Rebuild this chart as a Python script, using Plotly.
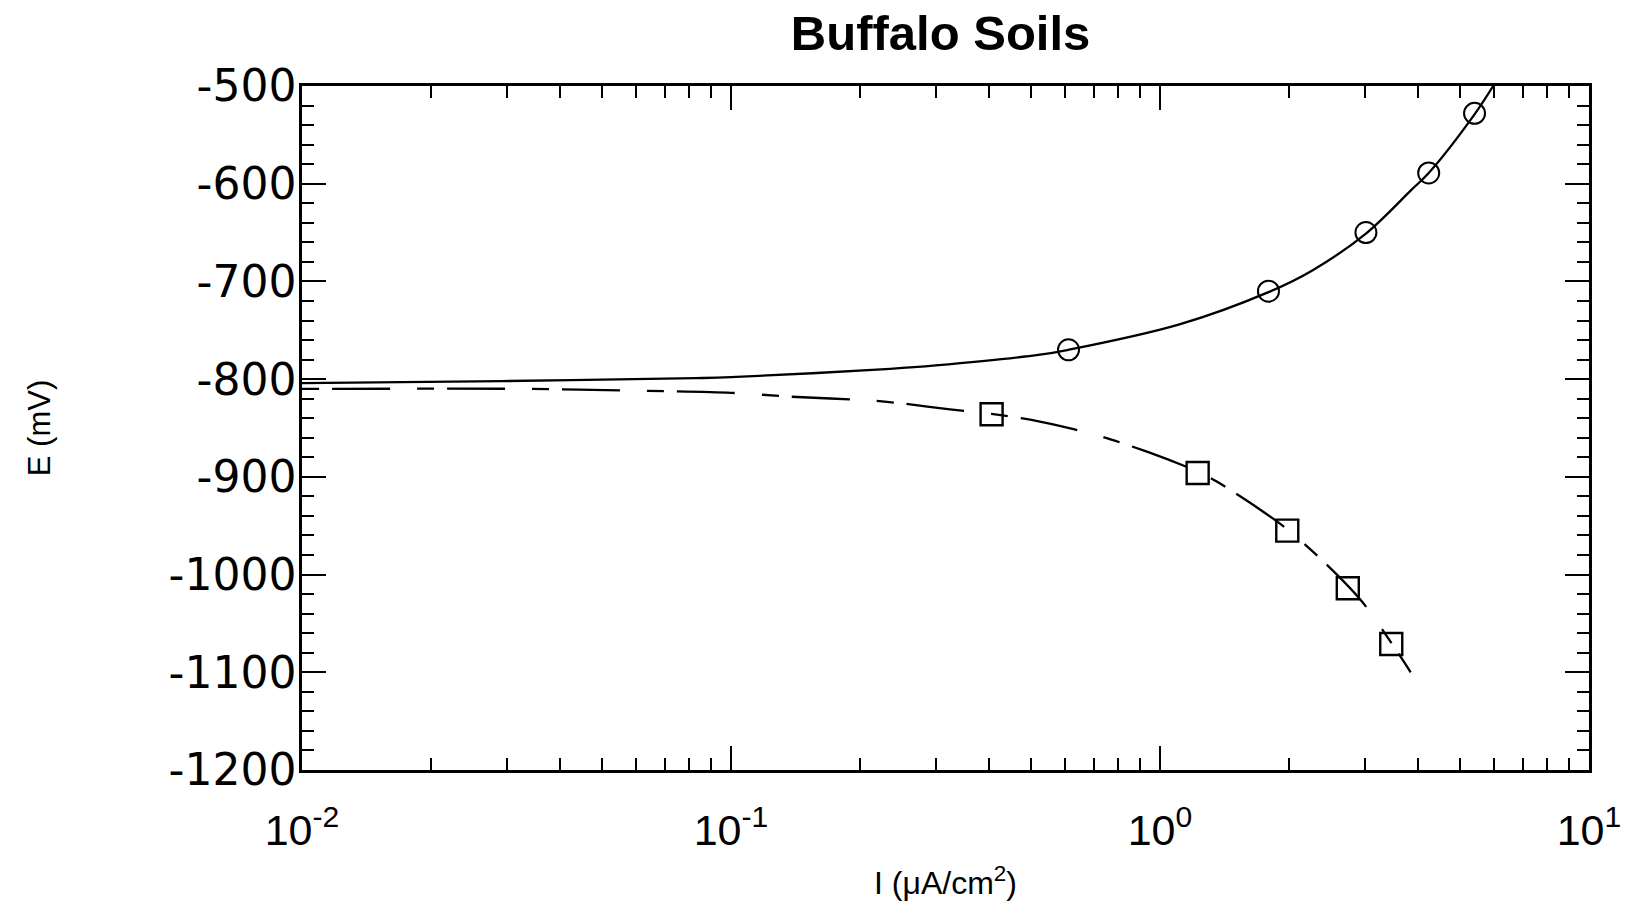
import plotly.graph_objects as go

# Measured data points
anodic_I = [0.612, 1.79, 3.02, 4.23, 5.41]
anodic_E = [-770, -710, -650, -589, -528]
cathodic_I = [0.405, 1.224, 1.98, 2.74, 3.46]
cathodic_E = [-836, -896, -955, -1014, -1071]

# Fitted curves
fit_anodic_I = [0.01, 0.0292, 0.0828, 0.1, 0.235, 0.300, 0.525, 0.612, 1.11, 1.79, 2.26, 3.02, 3.86, 4.23, 5.41, 5.98]
fit_anodic_E = [-804, -802, -799, -798, -789.5, -786, -775, -770, -744, -711, -689, -651, -606, -589, -529, -500]
fit_cath_I = [0.01, 0.0343, 0.0634, 0.1, 0.138, 0.215, 0.252, 0.324, 0.405, 0.505, 0.632, 0.734,
              0.929, 1.227, 1.359, 1.70, 1.98, 2.45, 2.95, 3.47, 3.84]
fit_cath_E = [-810, -810, -812, -814, -818, -822, -825, -831, -835.5, -842, -851.5, -859,
              -874, -894.7, -905, -932.6, -953.7, -990, -1027, -1070.5, -1100]

x_tickvals = [0.01, 0.1, 1, 10]
x_ticktext = ["10<sup>-2</sup>", "10<sup>-1</sup>", "10<sup>0</sup>", "10<sup>1</sup>"]
x_minor = [m * 10 ** e for e in (-2, -1, 0) for m in range(2, 10)]
y_tickvals = [-1200, -1100, -1000, -900, -800, -700, -600, -500]
y_ticktext = ["-1200", "-1100", "-1000", "-900", "-800", "-700", "-600", "-500"]

FONT = "Liberation Sans, Arial, sans-serif"
YFONT = "DejaVu Sans, sans-serif"

fig = go.Figure()
fig.add_trace(go.Scatter(x=fit_anodic_I, y=fit_anodic_E, mode="lines",
                         line=dict(color="black", width=2.3, shape="spline", smoothing=1.0),
                         showlegend=False, hoverinfo="skip"))
fig.add_trace(go.Scatter(x=fit_cath_I, y=fit_cath_E, mode="lines",
                         line=dict(color="black", width=2.3, dash="17px,13px,58px,27px",
                                   shape="spline", smoothing=0.8),
                         showlegend=False, hoverinfo="skip"))
fig.add_trace(go.Scatter(x=anodic_I, y=anodic_E, mode="markers",
                         marker=dict(symbol="circle-open", size=21, color="black",
                                     line=dict(color="black", width=2)),
                         showlegend=False))
fig.add_trace(go.Scatter(x=cathodic_I, y=cathodic_E, mode="markers",
                         marker=dict(symbol="square-open", size=22, color="black",
                                     line=dict(color="black", width=2.4)),
                         showlegend=False))

fig.update_layout(
    width=1631, height=908,
    margin=dict(l=302, r=42, t=86, b=138),
    plot_bgcolor="white", paper_bgcolor="white",
    font=dict(family=FONT, color="black"),
    title=dict(text="<b>Buffalo Soils</b>", x=0.5767, xanchor="center",
               y=1 - 33 / 908, yanchor="middle",
               font=dict(family=FONT, size=49, color="black")),
)
fig.update_xaxes(
    type="log", range=[-2, 1], automargin=False,
    tickmode="array", tickvals=x_tickvals, ticktext=x_ticktext,
    ticks="inside", ticklen=24, tickwidth=2, tickcolor="black",
    showline=True, linewidth=2.6, linecolor="black", mirror="ticks",
    showgrid=False, zeroline=False,
    tickfont=dict(family=FONT, size=43, color="black"),
    ticklabelstandoff=21,
    minor=dict(tickvals=x_minor, ticks="inside", ticklen=12, tickwidth=2, tickcolor="black", showgrid=False),
    title=dict(text="I (μA/cm<sup>2</sup>)", font=dict(family=FONT, size=32, color="black"), standoff=19),
)
fig.update_yaxes(
    range=[-1200, -500], automargin=False,
    tickmode="array", tickvals=y_tickvals, ticktext=y_ticktext,
    ticks="inside", ticklen=24, tickwidth=2, tickcolor="black",
    showline=True, linewidth=2.6, linecolor="black", mirror="ticks",
    showgrid=False, zeroline=False,
    tickfont=dict(family=YFONT, size=44, color="black"),
    ticklabelstandoff=-6,
    minor=dict(tick0=-1200, dtick=20, ticks="inside", ticklen=12, tickwidth=2, tickcolor="black", showgrid=False),
    title=dict(text="E (mV)", font=dict(family=FONT, size=31, color="black"), standoff=109),
)

fig.write_html("out.html")
